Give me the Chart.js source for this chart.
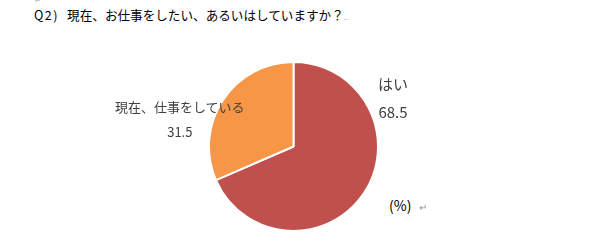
<!DOCTYPE html>
<html>
<head>
<meta charset="utf-8">
<script src="https://cdn.jsdelivr.net/npm/chart.js@4"></script>
<style>
  body { margin: 0; background: #fff; }
  #wrap { position: relative; width: 589px; height: 250px; overflow: hidden; font-family: "Noto Sans CJK JP", sans-serif; }
  #titulo { position: absolute; left: 34px; top: 8px; font-size: 12.6px; line-height: 14px; color: #000; white-space: nowrap; }
  #titulo .q { letter-spacing: 1.5px; margin-right: 8px; }
  #titulo .marca { color: #aaa; font-size: 8px; }
  #marcaTopo { position: absolute; left: 35px; top: -3px; color: #aaa; font-size: 7px; line-height: 7px; }
  #grafico { position: absolute; left: 208px; top: 61px; }
  .rotulo { position: absolute; color: #404040; white-space: nowrap; text-align: center; }
  #unidade { position: absolute; left: 389px; top: 195px; font-size: 14px; color: #000; }
  #unidade span { color: #999; font-size: 10px; margin-left: 8px; }
</style>
</head>
<body>
<div id="wrap">
  <div id="marcaTopo">↵</div>
  <div id="titulo"><span class="q">Q2)</span>現在、お仕事をしたい、あるいはしていますか？<span class="marca">..</span></div>
  <canvas id="grafico" width="171" height="171"></canvas>
  <div id="unidade">(%)<span>↵</span></div>
</div>
<script>
const categorias = ["はい", "現在、仕事をしている"];
const valores = [68.5, 31.5];
const cores = ["#C0504D", "#F79646"];

// posicao dos rotulos (fora da pizza, como no original)
const rotulosPos = [
  { left: 378, top: 70, size: 15, linha: 28 },
  { left: 115, top: 94, size: 13, linha: 25 }
];

const wrap = document.getElementById("wrap");
categorias.forEach((cat, i) => {
  const p = rotulosPos[i];
  const div = document.createElement("div");
  div.className = "rotulo";
  div.style.left = p.left + "px";
  div.style.top = p.top + "px";
  div.style.fontSize = p.size + "px";
  div.style.lineHeight = p.linha + "px";
  div.innerHTML = cat + "<br>" + valores[i];
  wrap.appendChild(div);
});

const graficoPizza = new Chart(document.getElementById("grafico"), {
  type: "pie",
  data: {
    labels: categorias,
    datasets: [
      {
        data: valores,
        backgroundColor: cores,
        borderColor: "#ffffff",
        borderWidth: 2,
      },
    ],
  },
  options: {
    responsive: false,
    animation: false,
    layout: { padding: 0 },
    plugins: {
      legend: { display: false },
      tooltip: { enabled: false },
    },
  },
});
</script>
</body>
</html>
